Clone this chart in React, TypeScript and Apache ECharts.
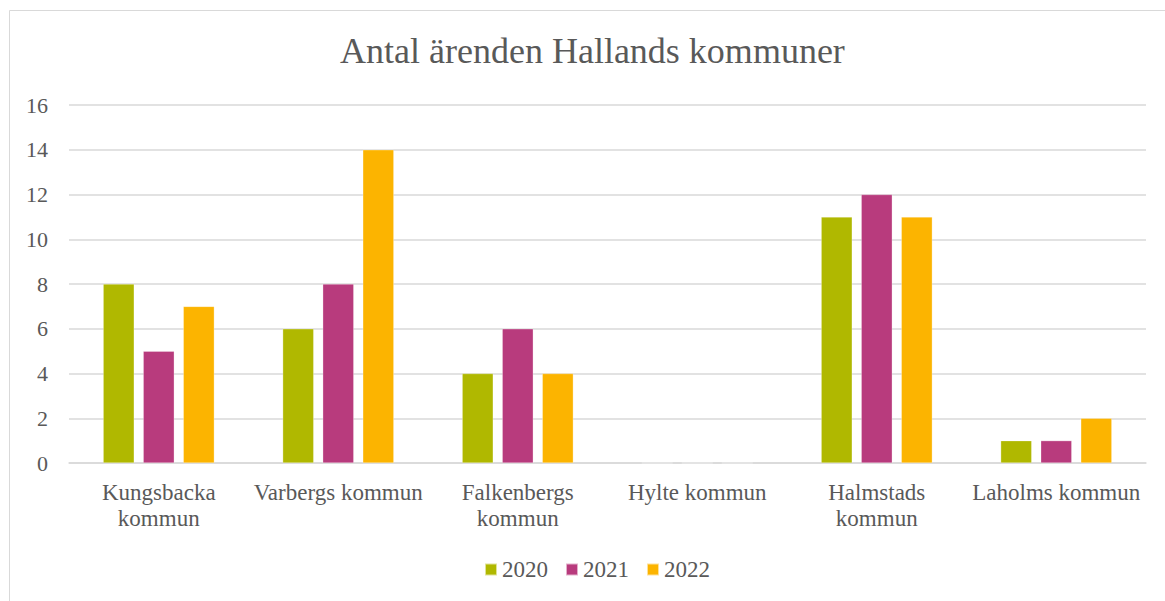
import React, { useEffect, useRef } from "react";
import * as echarts from "echarts";

const categories = [
  "Kungsbacka\nkommun",
  "Varbergs kommun",
  "Falkenbergs\nkommun",
  "Hylte kommun",
  "Halmstads\nkommun",
  "Laholms kommun",
];
const years = ["2020", "2021", "2022"];
const values2020 = [8, 6, 4, 0, 11, 1];
const values2021 = [5, 8, 6, 0, 12, 1];
const values2022 = [7, 14, 4, 0, 11, 2];
const colors = ["#B0B800", "#B83B7D", "#FCB400"];

const FONT = "Liberation Serif";

export default function App() {
  const ref = useRef<HTMLDivElement>(null);
  useEffect(() => {
    document.body.style.margin = "0";
    const chart = echarts.init(ref.current!, undefined, { renderer: "svg" });
    const seriesData = [values2020, values2021, values2022];
    chart.setOption({
      animation: false,
      backgroundColor: "#ffffff",
      textStyle: { fontFamily: FONT },
      title: {
        text: "Antal ärenden Hallands kommuner",
        left: 335,
        top: 28,
        textStyle: { fontFamily: FONT, fontSize: 36, fontWeight: "normal", color: "#595959" },
      },
      graphic: [
        {
          type: "rect",
          shape: { x: 9.5, y: 10.5, width: 1170, height: 600 },
          style: { fill: "none", stroke: "#d9d9d9", lineWidth: 1 },
          silent: true,
        },
      ],
      legend: {
        bottom: 15,
        left: 479,
        itemWidth: 12,
        itemHeight: 12,
        itemGap: 17,
        icon: "rect",
        textStyle: { fontFamily: FONT, fontSize: 23, color: "#595959" },
        data: years,
      },
      grid: { left: 69, right: 19, top: 105, bottom: 138 },
      xAxis: {
        type: "category",
        data: categories,
        axisLine: { lineStyle: { color: "#d9d9d9", width: 1.5 } },
        axisTick: { show: false },
        axisLabel: {
          fontFamily: FONT,
          fontSize: 23,
          color: "#595959",
          lineHeight: 26,
          margin: 16,
          interval: 0,
        },
      },
      yAxis: {
        type: "value",
        min: 0,
        max: 16,
        interval: 2,
        axisLine: { show: false },
        axisTick: { show: false },
        splitLine: { lineStyle: { color: "#d9d9d9", width: 1.5 } },
        axisLabel: { fontFamily: FONT, fontSize: 22, color: "#595959", margin: 21 },
      },
      series: years.map((y, i) => ({
        name: y,
        type: "bar",
        data: seriesData[i],
        barWidth: "17.3%",
        barGap: "29%",
        itemStyle: { color: colors[i], borderColor: "rgba(255,255,255,0.6)", borderWidth: 0.5 },
      })),
    });
    return () => chart.dispose();
  }, []);
  return <div ref={ref} style={{ width: 1165, height: 601 }} />;
}
